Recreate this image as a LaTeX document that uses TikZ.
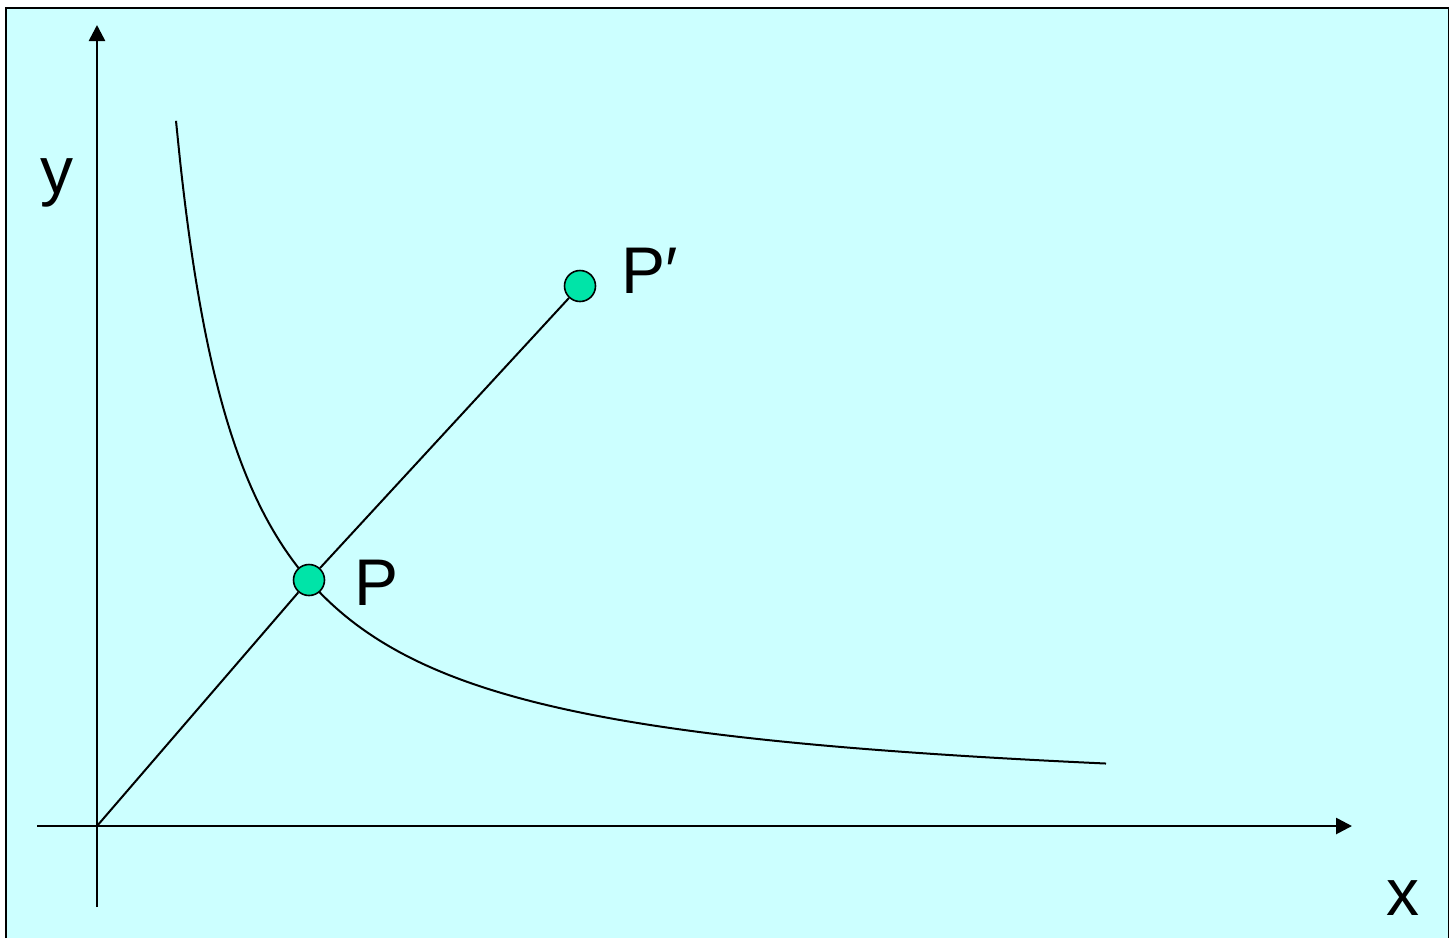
\documentclass[tikz,border=0pt]{standalone}
\usepackage{fontspec}
\setmainfont{Liberation Sans}
\usepackage{xcolor}
\usetikzlibrary{arrows.meta,positioning}
\definecolor{softcyan}{HTML}{CCFFFF}
\definecolor{pointgreen}{HTML}{00E4A8}

\begin{document}
\begin{tikzpicture}[x=0.5pt, y=-0.5pt, font=\fontsize{33}{36}\selectfont, >={Triangle[length=8pt, width=8pt]}]
  \tikzstyle{axis}=[line width=1.3pt]
  \tikzstyle{pointdot}=[circle, draw, line width=0.8pt, fill=pointgreen, minimum size=15.5pt, inner sep=0pt]
  \tikzstyle{lbl}=[anchor=base, inner sep=0pt]
  \useasboundingbox (0,0) rectangle (1449,938);
  \fill[white] (0,0) rectangle (1449,938);
  \draw[fill=softcyan, line width=1pt] (6,938) -- (6,8) -- (1449,8) -- (1449,938);

  % axes
  \coordinate (O) at (97,826);
  \coordinate (xleft) at (37,826);
  \coordinate (xright) at (1352,826);
  \coordinate (ybottom) at (97,907);
  \coordinate (ytop) at (97,25);
  \draw[axis, ->] (xleft) -- (xright);
  \draw[axis, ->] (ybottom) -- (ytop);
  \node[lbl] (ylabel) at (57,193) {y};
  \node[lbl] (xlabel) at (1403,915) {x};

  % curve
  \draw[line width=1pt] plot[domain=176:1106, samples=200, smooth] ({\x},{809.2-455/((\x-109.9)/100)});

  % points
  \node[pointdot] (P) at (309,580) {};
  \node[pointdot] (Pp) at (580,286) {};
  \draw[line width=1pt] (O) -- (P);
  \draw[line width=1pt] (P) -- (Pp);
  \node[lbl] (Plabel) at (377,605) {P};
  \node[lbl] (Pplabel) at (650,293) {P′};
\end{tikzpicture}
\end{document}
